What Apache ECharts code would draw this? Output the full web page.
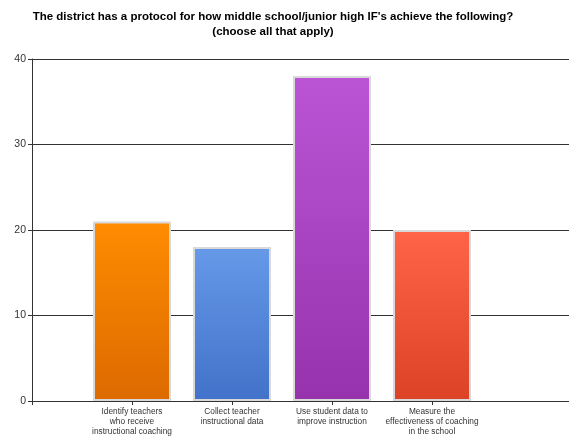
<!DOCTYPE html>
<html>
<head>
<meta charset="utf-8">
<script src="https://cdn.jsdelivr.net/npm/echarts@6/dist/echarts.min.js"></script>
<style>
  html, body { margin: 0; padding: 0; background: #fff; }
  #chart { width: 569px; height: 438px; }
</style>
</head>
<body>
<div id="chart"></div>
<script>
// Survey answers and their counts
const categories = [
  'Identify teachers\nwho receive\ninstructional coaching',
  'Collect teacher\ninstructional data',
  'Use student data to\nimprove instruction',
  'Measure the\neffectiveness of coaching\nin the school'
];
const counts = [21, 18, 38, 20];
const yTicks = [0, 10, 20, 30, 40];

// Top/bottom gradient colours, one pair per bar
const barTop = ['#ff8c00', '#6699e8', '#bb55d6', '#ff6448'];
const barBottom = ['#dc6a00', '#4272c9', '#9632ac', '#dc4225'];

// The axis carries blank slots around the answers so they sit at even spacing
const axisCats = [''].concat(categories, ['', '']);
const axisVals = [null].concat(counts, [null, null]);

const chart = echarts.init(document.getElementById('chart'), null, { renderer: 'canvas' });

chart.setOption({
  backgroundColor: '#ffffff',
  animation: false,
  title: {
    text: "The district has a protocol for how middle school/junior high IF's achieve the following?\n(choose all that apply)",
    left: 268,
    top: 4,
    textAlign: 'center',
    textStyle: {
      fontFamily: 'Liberation Sans, Arial, sans-serif',
      fontWeight: 'bold',
      fontSize: 11.5,
      lineHeight: 15,
      color: '#000'
    }
  },
  grid: { left: 32, top: 59, width: 600, bottom: 37, outerBoundsMode: 'none' },
  xAxis: {
    type: 'category',
    data: axisCats,
    boundaryGap: false,
    axisLine: { lineStyle: { color: '#333', width: 1 } },
    axisTick: {
      length: 4,
      interval: function (i) { return i <= categories.length; },
      lineStyle: { color: '#333' }
    },
    axisLabel: {
      interval: 0,
      margin: 6,
      fontFamily: 'Liberation Sans, Arial, sans-serif',
      fontSize: 8.3,
      lineHeight: 10,
      color: '#333'
    },
    splitLine: { show: false }
  },
  yAxis: {
    type: 'value',
    min: yTicks[0],
    max: yTicks[yTicks.length - 1],
    interval: 10,
    axisLine: { show: true, lineStyle: { color: '#333' } },
    axisTick: { show: true, length: 4, lineStyle: { color: '#333' } },
    axisLabel: {
      margin: 6,
      fontFamily: 'Liberation Sans, Arial, sans-serif',
      fontSize: 10.5,
      color: '#333'
    },
    splitLine: { show: true, lineStyle: { color: '#333', width: 1 } }
  },
  series: [{
    type: 'bar',
    barWidth: 78,
    data: axisVals.map(function (v, i) {
      if (v === null) return null;
      const k = i - 1;
      return {
        value: v,
        itemStyle: {
          color: new echarts.graphic.LinearGradient(0, 0, 0, 1, [
            { offset: 0, color: barTop[k] },
            { offset: 1, color: barBottom[k] }
          ]),
          borderColor: '#d9d9d9',
          borderWidth: 2
        }
      };
    })
  }]
});
</script>
</body>
</html>
